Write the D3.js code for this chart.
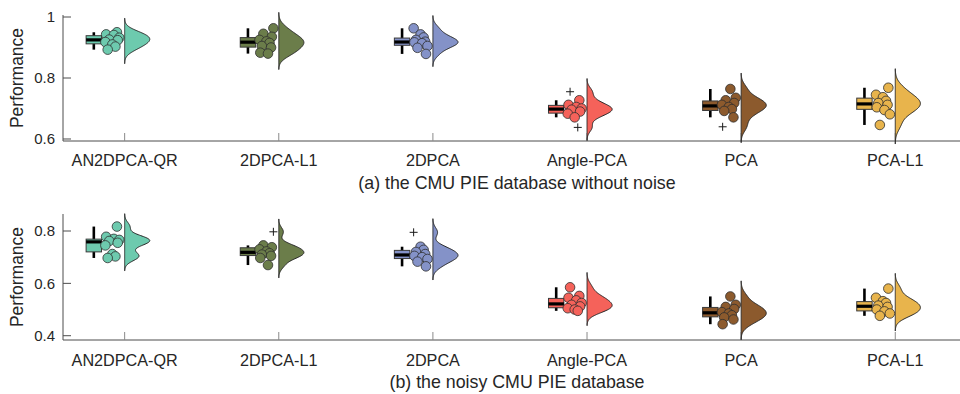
<!DOCTYPE html>
<html>
<head>
<meta charset="utf-8">
<script src="https://cdn.jsdelivr.net/npm/d3@7"></script>
<style>
  body { margin: 0; background: #fff; }
  svg { display: block; }
  text { font-family: "Liberation Sans", Arial, Helvetica, sans-serif; fill: #262626; }
</style>
</head>
<body>
<svg id="chart" width="960" height="394"></svg>
<script>
// Methods compared and their colours
const methods = ["AN2DPCA-QR", "2DPCA-L1", "2DPCA", "Angle-PCA", "PCA", "PCA-L1"];
const methodColors = ["#6dcaae", "#6b7d4a", "#8492c8", "#f5625a", "#8c5a2d", "#e8b44c"];

// Recognition performance, CMU PIE without noise (10 runs per method)
const cleanAN2DPCAQR = [0.950, 0.943, 0.941, 0.932, 0.926, 0.924, 0.918, 0.910, 0.903, 0.893];
const clean2DPCAL1   = [0.963, 0.945, 0.935, 0.925, 0.920, 0.915, 0.905, 0.900, 0.883, 0.880];
const clean2DPCA     = [0.963, 0.943, 0.933, 0.925, 0.919, 0.917, 0.914, 0.905, 0.899, 0.879];
const cleanAnglePCA  = [0.755, 0.727, 0.712, 0.705, 0.700, 0.696, 0.690, 0.683, 0.671, 0.638];
const cleanPCA       = [0.764, 0.735, 0.727, 0.718, 0.712, 0.705, 0.698, 0.692, 0.671, 0.640];
const cleanPCAL1     = [0.768, 0.745, 0.737, 0.725, 0.718, 0.712, 0.704, 0.695, 0.681, 0.646];

// Recognition performance, noisy CMU PIE
const noisyAN2DPCAQR = [0.817, 0.778, 0.770, 0.766, 0.762, 0.755, 0.745, 0.712, 0.703, 0.697];
const noisy2DPCAL1   = [0.797, 0.745, 0.738, 0.730, 0.722, 0.715, 0.710, 0.705, 0.697, 0.670];
const noisy2DPCA     = [0.795, 0.740, 0.728, 0.720, 0.712, 0.705, 0.700, 0.693, 0.683, 0.665];
const noisyAnglePCA  = [0.585, 0.552, 0.545, 0.535, 0.525, 0.518, 0.512, 0.505, 0.500, 0.495];
const noisyPCA       = [0.550, 0.518, 0.510, 0.502, 0.490, 0.485, 0.478, 0.470, 0.462, 0.444];
const noisyPCAL1     = [0.580, 0.545, 0.532, 0.525, 0.515, 0.510, 0.500, 0.493, 0.485, 0.476];

const cleanTicks = [0.6, 0.8, 1];
const noisyTicks = [0.4, 0.6, 0.8];

// Horizontal scatter of the raw points (category units), rotated per method
const jitter = [0.030, -0.040, 0.010, 0.045, -0.020, 0.035, -0.045, 0.000, 0.020, -0.030];

const panels = [
  { scores: [cleanAN2DPCAQR, clean2DPCAL1, clean2DPCA, cleanAnglePCA, cleanPCA, cleanPCAL1],
    ticks: cleanTicks, domain: [0.5934, 1.0066], top: 15, bottom: 141,
    labelY: 165.5, caption: "(a) the CMU PIE database without noise", captionY: 189 },
  { scores: [noisyAN2DPCAQR, noisy2DPCAL1, noisy2DPCA, noisyAnglePCA, noisyPCA, noisyPCAL1],
    ticks: noisyTicks, domain: [0.3836, 0.865], top: 214, bottom: 340,
    labelY: 365.5, caption: "(b) the noisy CMU PIE database", captionY: 387.5 }
];

const svg = d3.select("#chart");
const left = 63, right = 960;
const x = d3.scaleLinear().domain([0.6, 6.42]).range([left, right]);
const axisColor = "#4d4d4d";

// Gaussian kernel density, Silverman-type bandwidth from the MAD
function density(values) {
  const n = values.length;
  const med = d3.median(values);
  const mad = d3.median(values, v => Math.abs(v - med));
  const bw = mad / 0.6745 * Math.pow(4 / (3 * n), 0.2);
  const lo = d3.min(values) - 3 * bw, hi = d3.max(values) + 3 * bw;
  return d3.range(121).map(i => {
    const g = lo + (hi - lo) * i / 120;
    const d = d3.mean(values, v => Math.exp(-0.5 * ((g - v) / bw) ** 2)) / (bw * Math.sqrt(2 * Math.PI));
    return [g, d];
  });
}

panels.forEach(p => {
  const y = d3.scaleLinear().domain(p.domain).range([p.bottom, p.top]);
  const g = svg.append("g");

  // axes
  g.append("line").attr("x1", left).attr("x2", right).attr("y1", p.bottom).attr("y2", p.bottom)
    .attr("stroke", axisColor).attr("stroke-width", 1);
  g.append("line").attr("x1", left).attr("x2", left).attr("y1", p.top).attr("y2", p.bottom)
    .attr("stroke", axisColor).attr("stroke-width", 1);

  p.ticks.forEach(t => {
    g.append("line").attr("x1", left).attr("x2", left + 8).attr("y1", y(t)).attr("y2", y(t))
      .attr("stroke", axisColor).attr("stroke-width", 1);
    g.append("text").attr("x", 55).attr("y", y(t)).attr("dy", "0.35em")
      .attr("text-anchor", "end").attr("font-size", 15).text(d3.format("~g")(t));
  });

  methods.forEach((m, i) => {
    const c = i + 1;
    g.append("line").attr("x1", x(c)).attr("x2", x(c)).attr("y1", p.bottom).attr("y2", p.bottom - 8)
      .attr("stroke", "#8a8a8a").attr("stroke-width", 1);
    g.append("text").attr("x", x(c)).attr("y", p.labelY).attr("text-anchor", "middle")
      .attr("font-size", 16.2).text(m);
  });

  g.append("text").attr("transform", `translate(23,${(p.top + p.bottom) / 2}) rotate(-90)`)
    .attr("text-anchor", "middle").attr("font-size", 17.5).text("Performance");

  g.append("text").attr("x", 517).attr("y", p.captionY).attr("text-anchor", "middle")
    .attr("font-size", 17.8).text(p.caption);

  p.scores.forEach((vals, i) => {
    const c = i + 1, col = methodColors[i];
    const sorted = vals.slice().sort(d3.ascending);
    const q1 = d3.quantile(sorted, 0.25), q2 = d3.quantile(sorted, 0.5), q3 = d3.quantile(sorted, 0.75);
    const iqr = q3 - q1;
    const inside = sorted.filter(v => v >= q1 - 1.5 * iqr && v <= q3 + 1.5 * iqr);
    const wLo = d3.min(inside), wHi = d3.max(inside);

    // half violin
    const dens = density(vals);
    const maxD = d3.max(dens, d => d[1]);
    const vw = x(c + 0.163) - x(c);
    const area = d3.area().x0(x(c)).x1(d => x(c) + d[1] / maxD * vw).y(d => y(d[0]));
    g.append("path").attr("d", area(dens) + "Z").attr("fill", col)
      .attr("stroke", "#262626").attr("stroke-width", 1);

    // box plot
    const bx = x(c - 0.2), bw = x(c + 0.05) - x(c - 0.05);
    g.append("line").attr("x1", bx).attr("x2", bx).attr("y1", y(wHi)).attr("y2", y(wLo))
      .attr("stroke", "#000").attr("stroke-width", 2.6);
    g.append("rect").attr("x", bx - bw / 2).attr("width", bw).attr("y", y(q3)).attr("height", y(q1) - y(q3))
      .attr("fill", col).attr("stroke", "#3a3a3a").attr("stroke-width", 1);
    g.append("line").attr("x1", bx - bw / 2).attr("x2", bx + bw / 2).attr("y1", y(q2)).attr("y2", y(q2))
      .attr("stroke", "#000").attr("stroke-width", 3.2);

    // raw points, outliers as crosses
    vals.forEach((v, k) => {
      const px = x(c - 0.08 + jitter[(k + 3 * i) % jitter.length]);
      if (v < q1 - 1.5 * iqr || v > q3 + 1.5 * iqr) {
        g.append("path").attr("d", `M${px - 4},${y(v)}H${px + 4}M${px},${y(v) - 4}V${y(v) + 4}`)
          .attr("stroke", "#1a1a1a").attr("stroke-width", 1).attr("fill", "none");
      } else {
        g.append("circle").attr("cx", px).attr("cy", y(v)).attr("r", 4.8)
          .attr("fill", col).attr("stroke", "#2e2e2e").attr("stroke-width", 0.8);
      }
    });
  });
});
</script>
</body>
</html>
